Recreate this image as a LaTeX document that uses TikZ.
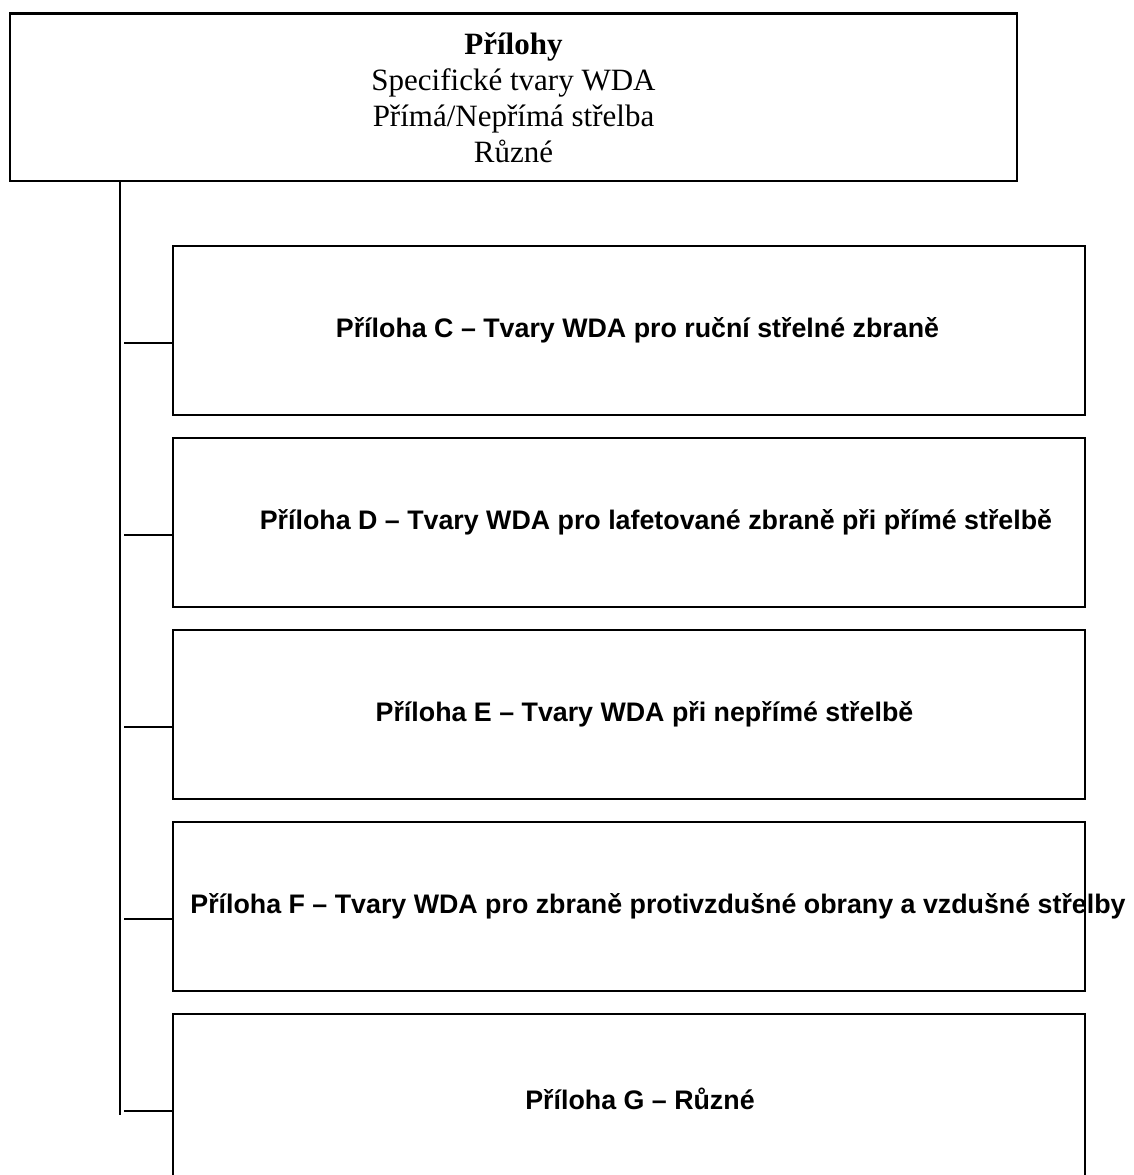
\documentclass[tikz,border=0pt]{standalone}
\usepackage{fontspec}
\setmainfont{Liberation Serif}
\newfontfamily\arialfont{Liberation Sans}
\begin{document}
\begin{tikzpicture}[x=1pt,y=-1pt,
  topbox/.style={draw, line width=2.6pt, rectangle, inner sep=0pt,
    minimum width=1007pt, minimum height=167.5pt, align=center,
    font=\fontsize{31}{36}\selectfont},
  panel/.style={draw, line width=2.2pt, rectangle, inner sep=0pt,
    minimum width=912pt, minimum height=169pt},
  paneltext/.style={inner sep=0pt, font=\arialfont\bfseries\fontsize{26.8}{32}\selectfont},
  link/.style={draw, line width=2pt}]
  \useasboundingbox (0,0) rectangle (1134,1175);
  \clip (0,0) rectangle (1134,1175);

  % heading box
  \node[topbox] (top) at (513.5,97.25)
    {{\bfseries Přílohy}\\ Specifické tvary WDA\\ Přímá/Nepřímá střelba\\ Různé};

  % annex boxes
  \node[panel] (C) at (629,330.5) {};
  \node[panel] (D) at (629,522.5) {};
  \node[panel] (E) at (629,714.5) {};
  \node[panel] (F) at (629,906.5) {};
  \node[panel] (G) at (629,1098.5) {};

  \node[paneltext] (tC) at ([xshift=8.5pt]C.center) {Příloha C – Tvary WDA pro ruční střelné zbraně};
  \node[paneltext] (tD) at ([xshift=27pt]D.center) {Příloha D – Tvary WDA pro lafetované zbraně při přímé střelbě};
  \node[paneltext] (tE) at ([xshift=15.5pt]E.center) {Příloha E – Tvary WDA při nepřímé střelbě};
  \node[paneltext] (tF) at ([xshift=29pt]F.center) {Příloha F – Tvary WDA pro zbraně protivzdušné obrany a vzdušné střelby};
  \node[paneltext] (tG) at ([xshift=11pt]G.center) {Příloha G – Různé};

  % trunk line
  \coordinate (trunkEnd) at (120,1115);
  \draw[link] (top.south -| trunkEnd) -- (trunkEnd);

  % branches to the annex boxes
  \coordinate (jC) at (124,343);
  \coordinate (jD) at (124,535);
  \coordinate (jE) at (124,727);
  \coordinate (jF) at (124,919);
  \coordinate (jG) at (124,1111);
  \draw[link] (jC) -- (jC -| C.west);
  \draw[link] (jD) -- (jD -| D.west);
  \draw[link] (jE) -- (jE -| E.west);
  \draw[link] (jF) -- (jF -| F.west);
  \draw[link] (jG) -- (jG -| G.west);
\end{tikzpicture}
\end{document}
